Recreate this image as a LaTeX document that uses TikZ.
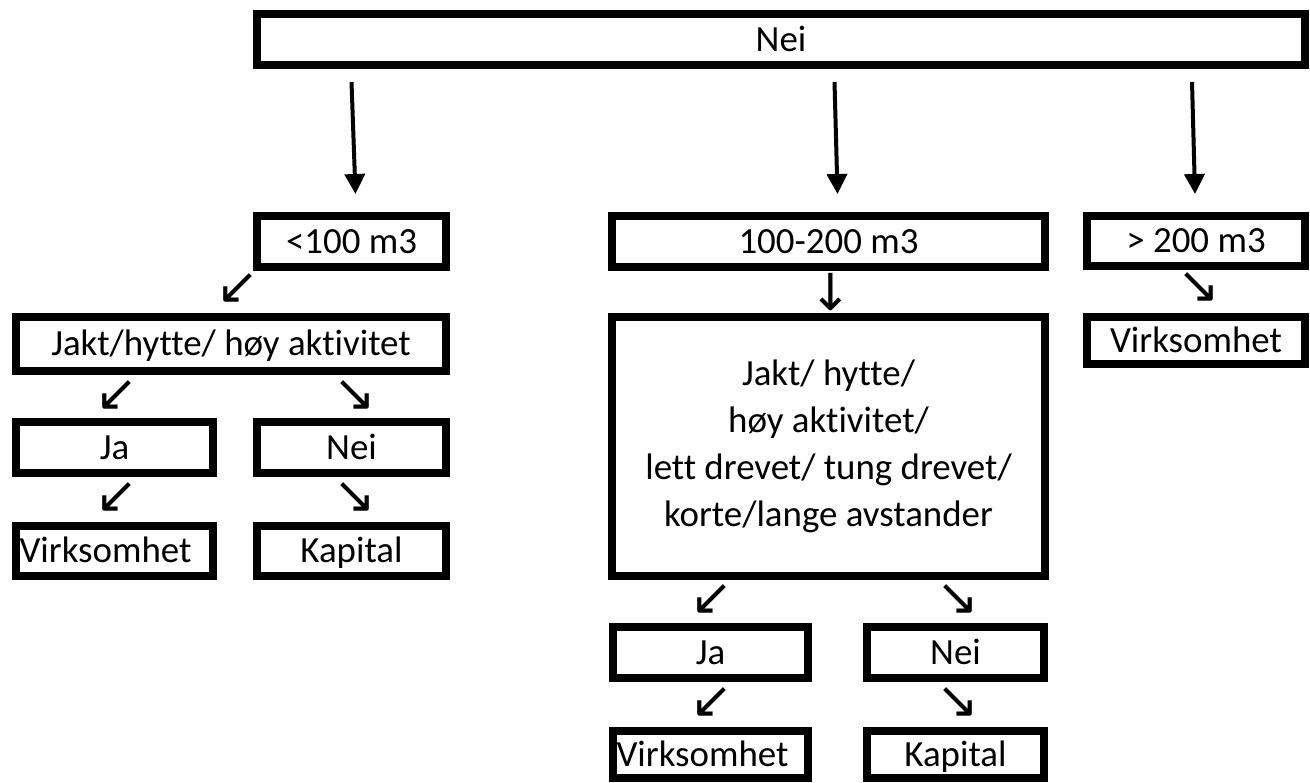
\documentclass[tikz,border=0pt]{standalone}
\usepackage{fontspec}
\setmainfont{Carlito}[Ligatures=NoCommon]
\newfontfamily\arrowfont{DejaVu Sans}
\usetikzlibrary{arrows.meta,calc}

\begin{document}
\begin{tikzpicture}[x=0.02cm,y=-0.02cm,
        frame/.style n args={2}{draw,line width=0.16cm,inner sep=0pt,
            minimum width=#1*0.02cm,minimum height=#2*0.02cm,
            font=\fontsize{21}{26.7}\selectfont},
        box/.style n args={2}{frame={#1}{#2},text height=16.8pt,text depth=3.3pt},
        pil/.style={inner sep=0pt,font=\arrowfont\fontsize{29}{32}\selectfont},
        bigarrow/.style={line width=0.08cm,-{Triangle[width=0.4cm,length=0.4cm]}}]
        \useasboundingbox (0,0) rectangle (1310,783);
        % top box
        \node[box={1048}{51}] (top) at (781,39.5) {Nei};
        % volume classes
        \node[box={189}{51}] (lt100) at (351.5,241.5) {<100 m3};
        \node[box={433}{51}] (mid) at (828.5,241.5) {100-200 m3};
        \node[box={218}{50}] (gt200) at (1196,241) {> 200 m3};
        \draw[bigarrow] ($(top.south -| lt100.north)+(0,13)$) -- ($(lt100.north)+(4,-18)$);
        \draw[bigarrow] ($(top.south -| mid.north)+(6,13)$) -- ($(mid.north)+(9,-18)$);
        \draw[bigarrow] ($(top.south -| gt200.north)+(-4,13)$) -- ($(gt200.north)+(-1,-18)$);
        % left branch
        \node[pil] (p1) at (238,289) {↙};
        \node[box={430}{54}] (jakt) at (231,344) {Jakt/hytte/ høy aktivitet};
        \node[pil] (p2) at (117,396) {↙};
        \node[pil] (p3) at (355,396) {↘};
        \node[box={197}{51}] (ja) at (114.5,447.5) {Ja};
        \node[box={189}{51}] (nei) at (351.5,447.5) {Nei};
        \node[pil] (p4) at (117,498) {↙};
        \node[pil] (p5) at (355,498) {↘};
        \node[box={197}{50}] (virk) at (114.5,551) {Virksomhet\hspace*{0.36cm}};
        \node[box={189}{50}] (kap) at (351.5,551) {Kapital};
        % middle branch
        \node[pil] (p6) at (831,292) {↓};
        \node[frame={433}{259},align=center] (jaktmid) at (828.5,446.5)
            {Jakt/ hytte/\\høy aktivitet/\\lett drevet/ tung drevet/\\korte/lange avstander};
        \node[pil] (p7) at (712,600) {↙};
        \node[pil] (p8) at (958,600) {↘};
        \node[box={195}{51}] (jamid) at (710.5,652.5) {Ja};
        \node[box={177}{51}] (neimid) at (955.5,652.5) {Nei};
        \node[pil] (p9) at (712,703) {↙};
        \node[pil] (p10) at (958,703) {↘};
        \node[box={195}{47}] (virkmid) at (710.5,754.5) {Virksomhet\hspace*{0.32cm}};
        \node[box={177}{47}] (kapmid) at (955.5,754.5) {Kapital};
        % right branch
        \node[pil] (p11) at (1199,288) {↘};
        \node[box={218}{47}] (virkright) at (1196,340.5) {Virksomhet};
\end{tikzpicture}
\end{document}
